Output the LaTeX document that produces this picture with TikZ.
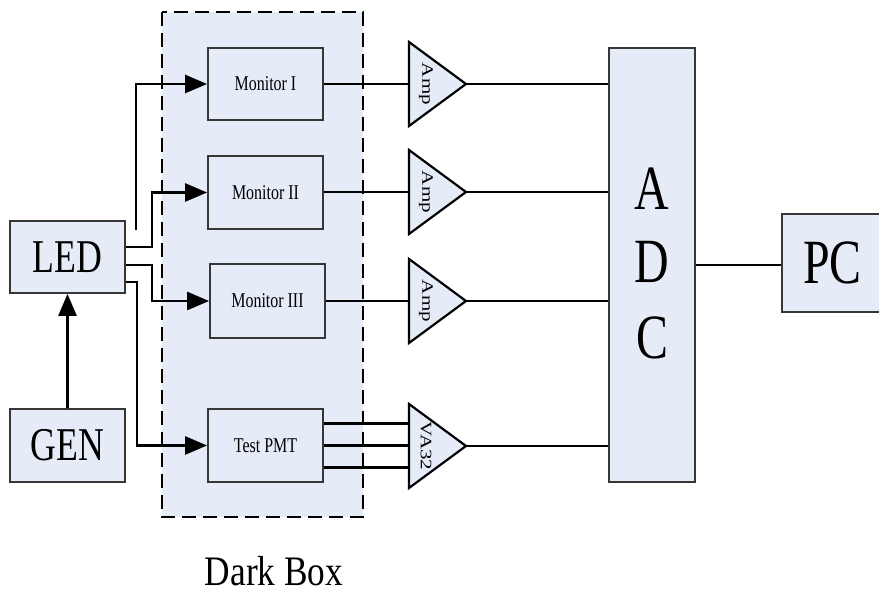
\documentclass[tikz,border=0pt]{standalone}
\usepackage{fontspec}
\usepackage{graphicx}
\setmainfont{Liberation Serif}
\usetikzlibrary{arrows.meta}
\definecolor{boxfill}{RGB}{230,236,247}
\definecolor{boxline}{RGB}{55,55,55}
\newcommand{\hsq}[2][0.76]{\scalebox{#1}[1]{#2}}
\newcommand{\vsq}[1]{\scalebox{1}[0.76]{#1}}
\begin{document}
\begin{tikzpicture}[x=1pt,y=-1pt,
  blk/.style={draw=boxline,fill=boxfill,line width=1.8pt,inner sep=0pt,minimum width=115pt,minimum height=72pt},
  conn/.style={line width=2.5pt,black},
  arr/.style={conn,-{Triangle[length=22pt,width=18pt]}},
  amptri/.style={draw=black,fill=boxfill,line width=2.2pt,line join=miter},
  mon/.style={font=\fontsize{21}{21}\selectfont},
  big/.style={font=\fontsize{47}{47}\selectfont},
  huge/.style={font=\fontsize{63}{63}\selectfont},
  amptxt/.style={rotate=-90,inner sep=0pt,font=\fontsize{21}{21}\selectfont},
]
\useasboundingbox (0,0) rectangle (879,593);
\fill[white] (0,0) rectangle (879,593);
% dark box
\draw[fill=boxfill,line width=2.5pt,dash pattern=on 14pt off 7pt] (162,12) rectangle (363,517);
\node[font=\fontsize{42}{42}\selectfont,inner sep=0pt] (dark) at (274,571) {\hsq[0.84]{Dark Box}};
% blocks
\node[blk,big] (led) at (67.5,257) {\hsq{LED}};
\node[blk,big,minimum height=73pt] (gen) at (67.5,445.5) {\hsq{GEN}};
\node[blk,mon] (m1) at (265.5,84) {\hsq{Monitor I}};
\node[blk,mon,minimum height=73pt] (m2) at (265.5,192.5) {\hsq{Monitor II}};
\node[blk,mon,minimum height=74pt] (m3) at (267.5,301) {\hsq{Monitor III}};
\node[blk,mon,minimum height=73pt] (pmt) at (265.5,445.5) {\hsq{Test PMT}};
\node[blk,minimum width=86pt,minimum height=434pt] (adc) at (652,265) {};
\node[huge,inner sep=0pt] (adcA) at (652,189) {\hsq{A}};
\node[huge,inner sep=0pt] (adcD) at (652,262) {\hsq{D}};
\node[huge,inner sep=0pt] (adcC) at (652,338) {\hsq{C}};
\node[blk,huge,minimum width=101pt,minimum height=98pt] (pc) at (832.5,263) {\hsq{PC}};
% amplifiers
\foreach \n/\y/\t in {1/84/Amp,2/192/Amp,3/301/Amp,4/446/VA32}{
  \draw[amptri] (409,\y-42) -- (466,\y) -- (409,\y+42) -- cycle;
  \coordinate (ain\n) at (409,\y);
  \coordinate (aout\n) at (466,\y);
  \node[amptxt] (atxt\n) at (426,\y) {\vsq{\t}};
}
% LED to monitors
\coordinate (upend) at (136,230);
\draw[arr] (upend) |- (m1.west);
\draw[arr] ([yshift=10pt]led.east) -- ++(26,0) |- (m2.west);
\draw[arr] ([yshift=-8pt]led.east) -- ++(26,0) |- (m3.west);
\draw[arr] ([yshift=-25pt]led.east) -- ++(11,0) |- (pmt.west);
\draw[arr] (gen.north) -- (led.south);
% monitors to amps
\draw[conn] (m1.east) -- (ain1);
\draw[conn] (m2.east |- ain2) -- (ain2);
\draw[conn] (m3.east) -- (ain3);
\draw[conn] ([yshift=22pt]pmt.east) -- ([yshift=22pt]pmt.east -| ain4);
\draw[conn] (pmt.east) -- (pmt.east -| ain4);
\draw[conn] ([yshift=-22pt]pmt.east) -- ([yshift=-22pt]pmt.east -| ain4);
% amps to ADC
\foreach \n in {1,2,3,4}{
  \draw[conn] (aout\n) -- (aout\n -| adc.west);
}
% ADC to PC
\draw[conn] (adc.east) -- (adc.east -| pc.west);
\end{tikzpicture}
\end{document}
